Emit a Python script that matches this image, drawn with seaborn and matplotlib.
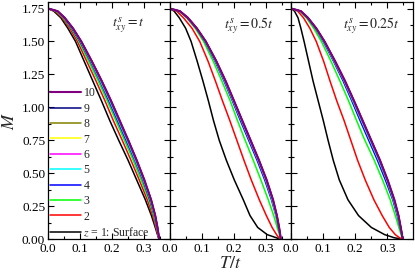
import numpy as np
import pandas as pd
import matplotlib
matplotlib.use("Agg")
import matplotlib.pyplot as plt
from matplotlib.ticker import MultipleLocator, FixedLocator
from matplotlib.lines import Line2D
import seaborn as sns

# Magnetisation levels (common to all curves); T/t at these levels
M_levels = [1.75, 1.73, 1.68, 1.60, 1.50, 1.35, 1.20, 1.05, 0.90, 0.75,
            0.60, 0.45, 0.30, 0.18, 0.09, 0.035, 0.012, 0.0]

layers = [1, 2, 3, 4, 5, 6, 7, 8, 9, 10]
layer_labels = ["$z$ = 1: Surface", "2", "3", "4", "5", "6", "7", "8", "9", "10"]
layer_colors = ["#000000", "#ff0000", "#00ff00", "#0000ff", "#00ffff",
                "#ff00ff", "#ffff00", "#808000", "#000080", "#800080"]
panel_titles = [r"$t^{s}_{xy} = t$", r"$t^{s}_{xy} = 0.5t$", r"$t^{s}_{xy} = 0.25t$"]
x_ticks = [0.0, 0.1, 0.2, 0.3]
x_ticklabels = ["0.0", "0.1", "0.2", "0.3"]
y_ticks = [0.00, 0.25, 0.50, 0.75, 1.00, 1.25, 1.50, 1.75]
y_ticklabels = ["0.00", "0.25", "0.50", "0.75", "1.00", "1.25", "1.50", "1.75"]

# Panel 1: t_xy^s = t
T1_z1 = [0, 0.018, 0.040, 0.062, 0.086, 0.113, 0.140, 0.167, 0.193, 0.221, 0.250, 0.277, 0.304, 0.323, 0.335, 0.342, 0.345, 0.347]
T1_z2 = [0, 0.022, 0.044, 0.068, 0.092, 0.121, 0.150, 0.178, 0.204, 0.232, 0.259, 0.285, 0.310, 0.327, 0.337, 0.343, 0.3455, 0.347]
T1_z3 = [0, 0.025, 0.047, 0.072, 0.097, 0.127, 0.157, 0.185, 0.212, 0.239, 0.266, 0.291, 0.315, 0.330, 0.339, 0.344, 0.346, 0.347]
T1_z4 = [0, 0.027, 0.049, 0.074, 0.100, 0.132, 0.162, 0.190, 0.217, 0.244, 0.271, 0.296, 0.318, 0.332, 0.340, 0.345, 0.3465, 0.347]
T1_z5 = [0, 0.028, 0.050, 0.076, 0.102, 0.134, 0.164, 0.193, 0.220, 0.247, 0.273, 0.298, 0.320, 0.333, 0.341, 0.345, 0.3465, 0.347]
T1_z6 = [0, 0.029, 0.051, 0.077, 0.103, 0.135, 0.166, 0.195, 0.222, 0.249, 0.275, 0.299, 0.321, 0.334, 0.341, 0.345, 0.3465, 0.347]
T1_z7 = [0, 0.029, 0.051, 0.077, 0.103, 0.136, 0.167, 0.196, 0.223, 0.250, 0.276, 0.300, 0.321, 0.334, 0.342, 0.345, 0.3465, 0.347]
T1_z8 = [0, 0.030, 0.052, 0.078, 0.104, 0.136, 0.167, 0.196, 0.223, 0.250, 0.276, 0.300, 0.322, 0.335, 0.342, 0.345, 0.3465, 0.347]
T1_z9 = [0, 0.030, 0.052, 0.078, 0.104, 0.137, 0.168, 0.197, 0.224, 0.251, 0.277, 0.301, 0.322, 0.335, 0.342, 0.3455, 0.3465, 0.347]
T1_z10 = [0, 0.030, 0.052, 0.078, 0.104, 0.137, 0.168, 0.197, 0.224, 0.251, 0.277, 0.301, 0.322, 0.335, 0.342, 0.3455, 0.3465, 0.347]

# Panel 2: t_xy^s = 0.5t
T2_z1 = [0, 0.014, 0.030, 0.050, 0.067, 0.086, 0.104, 0.121, 0.137, 0.155, 0.177, 0.202, 0.230, 0.251, 0.275, 0.305, 0.333, 0.347]
T2_z2 = [0, 0.022, 0.043, 0.070, 0.094, 0.120, 0.143, 0.165, 0.188, 0.210, 0.232, 0.255, 0.280, 0.302, 0.320, 0.334, 0.341, 0.347]
T2_z3 = [0, 0.029, 0.053, 0.080, 0.106, 0.136, 0.163, 0.189, 0.212, 0.236, 0.261, 0.285, 0.308, 0.325, 0.336, 0.343, 0.3455, 0.347]
T2_z4 = [0, 0.031, 0.055, 0.083, 0.110, 0.142, 0.170, 0.196, 0.221, 0.247, 0.273, 0.297, 0.318, 0.332, 0.340, 0.345, 0.3465, 0.347]
T2_z5 = [0, 0.031, 0.056, 0.084, 0.111, 0.144, 0.172, 0.198, 0.224, 0.250, 0.276, 0.300, 0.320, 0.333, 0.341, 0.345, 0.3465, 0.347]
T2_z6 = [0, 0.032, 0.056, 0.084, 0.112, 0.145, 0.173, 0.199, 0.225, 0.251, 0.277, 0.301, 0.321, 0.334, 0.341, 0.345, 0.3465, 0.347]
T2_z7 = [0, 0.032, 0.057, 0.085, 0.112, 0.145, 0.174, 0.200, 0.226, 0.252, 0.278, 0.302, 0.322, 0.334, 0.342, 0.3455, 0.3465, 0.347]
T2_z8 = [0, 0.032, 0.057, 0.085, 0.113, 0.146, 0.174, 0.201, 0.226, 0.253, 0.278, 0.302, 0.322, 0.335, 0.342, 0.3455, 0.3465, 0.347]
T2_z9 = [0, 0.032, 0.057, 0.085, 0.113, 0.146, 0.175, 0.201, 0.227, 0.253, 0.279, 0.303, 0.323, 0.335, 0.342, 0.3455, 0.3465, 0.347]
T2_z10 = [0, 0.032, 0.057, 0.085, 0.113, 0.146, 0.175, 0.201, 0.227, 0.253, 0.279, 0.303, 0.323, 0.335, 0.342, 0.3455, 0.3465, 0.347]

# Panel 3: t_xy^s = 0.25t
T3_z1 = [0, 0.010, 0.021, 0.030, 0.040, 0.054, 0.068, 0.084, 0.100, 0.115, 0.131, 0.150, 0.177, 0.210, 0.250, 0.292, 0.321, 0.348]
T3_z2 = [0, 0.020, 0.038, 0.058, 0.078, 0.101, 0.121, 0.142, 0.165, 0.186, 0.207, 0.231, 0.258, 0.284, 0.306, 0.325, 0.338, 0.348]
T3_z3 = [0, 0.027, 0.047, 0.070, 0.094, 0.124, 0.152, 0.179, 0.204, 0.230, 0.259, 0.285, 0.309, 0.325, 0.336, 0.343, 0.346, 0.348]
T3_z4 = [0, 0.029, 0.050, 0.075, 0.100, 0.132, 0.162, 0.189, 0.215, 0.242, 0.269, 0.294, 0.317, 0.331, 0.340, 0.345, 0.347, 0.348]
T3_z5 = [0, 0.029, 0.051, 0.076, 0.102, 0.134, 0.165, 0.192, 0.219, 0.246, 0.273, 0.298, 0.319, 0.333, 0.341, 0.3455, 0.347, 0.348]
T3_z6 = [0, 0.030, 0.051, 0.077, 0.103, 0.135, 0.166, 0.194, 0.221, 0.248, 0.275, 0.299, 0.320, 0.334, 0.341, 0.3455, 0.347, 0.348]
T3_z7 = [0, 0.030, 0.052, 0.077, 0.103, 0.136, 0.167, 0.195, 0.222, 0.249, 0.276, 0.300, 0.321, 0.334, 0.342, 0.346, 0.347, 0.348]
T3_z8 = [0, 0.030, 0.052, 0.078, 0.104, 0.136, 0.167, 0.195, 0.222, 0.249, 0.276, 0.300, 0.321, 0.335, 0.342, 0.346, 0.347, 0.348]
T3_z9 = [0, 0.030, 0.052, 0.078, 0.104, 0.137, 0.168, 0.196, 0.223, 0.250, 0.277, 0.301, 0.322, 0.335, 0.342, 0.346, 0.347, 0.348]
T3_z10 = [0, 0.030, 0.052, 0.078, 0.104, 0.137, 0.168, 0.196, 0.223, 0.250, 0.277, 0.301, 0.322, 0.335, 0.342, 0.346, 0.347, 0.348]

panels = [
    [T1_z1, T1_z2, T1_z3, T1_z4, T1_z5, T1_z6, T1_z7, T1_z8, T1_z9, T1_z10],
    [T2_z1, T2_z2, T2_z3, T2_z4, T2_z5, T2_z6, T2_z7, T2_z8, T2_z9, T2_z10],
    [T3_z1, T3_z2, T3_z3, T3_z4, T3_z5, T3_z6, T3_z7, T3_z8, T3_z9, T3_z10],
]

rows = []
for p, curves in enumerate(panels):
    for z, Ts in zip(layers, curves):
        for i, (t, m) in enumerate(zip(Ts, M_levels)):
            rows.append({"panel": p, "z": z, "order": i, "T": t, "M": m})
df = pd.DataFrame(rows)

sns.set_style("ticks")
plt.rcParams["font.family"] = "serif"
plt.rcParams["font.serif"] = ["Liberation Serif", "DejaVu Serif"]
plt.rcParams["mathtext.fontset"] = "stix"
plt.rcParams["xtick.direction"] = "in"
plt.rcParams["ytick.direction"] = "in"

fig, axes = plt.subplots(1, 3, figsize=(4.15, 2.76), dpi=100, sharey=True)
fig.subplots_adjust(left=0.1157, right=0.995, bottom=0.133, top=0.993, wspace=0)

title_x = [0.523, 0.448, 0.425]
for p, ax in enumerate(axes):
    sub = df[df["panel"] == p]
    for z, col in zip(layers, layer_colors):
        d = sub[sub["z"] == z]
        sns.lineplot(data=d, x="T", y="M", ax=ax, sort=False, estimator=None,
                     color=col, linewidth=1.5 if z == 10 else 1.1, legend=False)
    ax.set_xlim(0, 0.38)
    ax.set_ylim(0, 1.8)
    ax.xaxis.set_major_locator(FixedLocator(x_ticks))
    ax.set_xticklabels(x_ticklabels)
    ax.xaxis.set_minor_locator(MultipleLocator(0.05))
    ax.yaxis.set_major_locator(FixedLocator(y_ticks))
    ax.yaxis.set_minor_locator(MultipleLocator(0.125))
    ax.tick_params(which="both", direction="in", top=True, right=True,
                   labelsize=9.5, width=0.8, colors="black")
    ax.tick_params(axis="x", pad=3)
    ax.tick_params(axis="y", pad=2)
    ax.tick_params(which="major", length=4)
    ax.tick_params(which="minor", length=2)
    for s in ax.spines.values():
        s.set_linewidth(0.9)
        s.set_color("black")
    ax.set_xlabel("")
    ax.set_ylabel("")
    ax.text(title_x[p], 0.89, panel_titles[p], transform=ax.transAxes,
            fontsize=10, ha="left", va="baseline")
    if p > 0:
        ax.tick_params(labelleft=False)

axes[0].set_yticklabels(y_ticklabels)
axes[0].set_ylabel("$M$", fontsize=13, labelpad=3)
axes[1].set_xlabel("$T/t$", fontsize=13, labelpad=0)

handles = [Line2D([], [], color=c, linewidth=1.5 if z == 10 else 1.1)
           for z, c in zip(layers, layer_colors)]
leg = axes[0].legend(handles[::-1], layer_labels[::-1], loc="lower left",
                     bbox_to_anchor=(0.01, -0.005), frameon=False, fontsize=8.5,
                     handlelength=2.6, handletextpad=0.2, labelspacing=0.29,
                     borderaxespad=0.0, borderpad=0.1)

fig.savefig("out.png", dpi=100)
